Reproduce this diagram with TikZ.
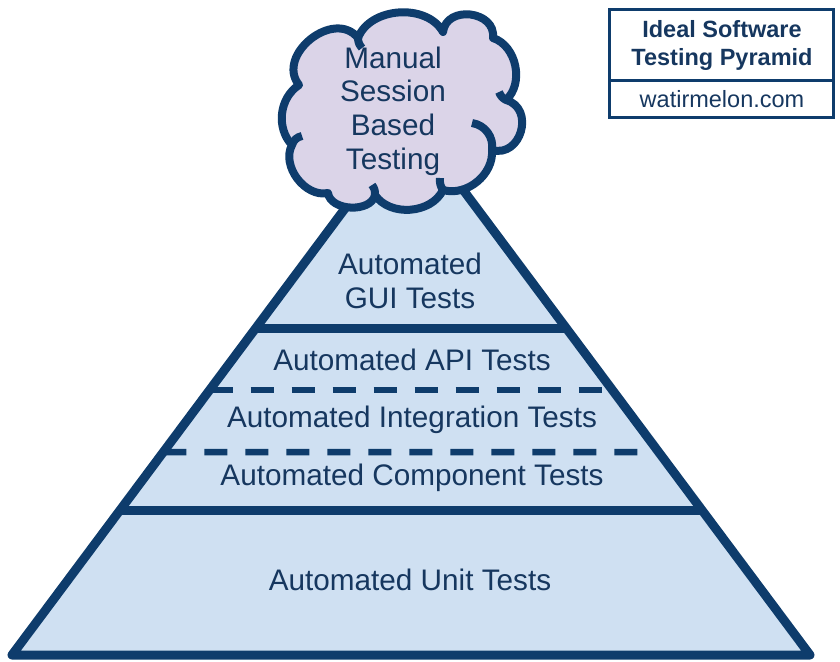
\documentclass[tikz,border=0pt]{standalone}
\usepackage{fontspec}
\setmainfont{Liberation Sans}
\usetikzlibrary{calc}

\definecolor{pyrline}{RGB}{14,60,108}
\definecolor{pyrtext}{RGB}{22,55,95}
\definecolor{pyrfill}{RGB}{207,224,242}
\definecolor{cloudfill}{RGB}{219,212,232}

\tikzset{
  layer/.style={text=pyrtext, font=\fontsize{29.7}{33.7}\selectfont, align=center, inner sep=0pt},
  boxtext/.style={text=pyrtext, font=\fontsize{23.5}{28}\selectfont, align=center, inner sep=0pt},
  edge/.style={draw=pyrline, line width=9pt, line join=round},
  dashline/.style={draw=pyrline, line width=6.5pt, dash pattern=on 23pt off 18pt},
}

\begin{document}
\begin{tikzpicture}[x=1pt, y=1pt]
    \useasboundingbox (0,0) rectangle (840,-661);

    % Pyramid
    \coordinate (apex) at (411,-120);
    \coordinate (bl) at (12,-655);
    \coordinate (br) at (810,-655);
    \draw[edge, fill=pyrfill] (apex) -- (bl) -- (br) -- cycle;

    % Layer borders
    \draw[edge] ($(apex)!0.389!(bl)$) -- ($(apex)!0.389!(br)$);
    \draw[dashline] ($(apex)!0.5047!(bl)$) -- ($(apex)!0.5047!(br)$);
    \draw[dashline] ($(apex)!0.6206!(bl)$) -- (640,-452);
    \draw[edge] ($(apex)!0.729!(bl)$) -- ($(apex)!0.729!(br)$);

    % Cloud on top
    \draw[edge, line width=8pt, fill=cloudfill]
        (292,-145) to[bend left=50] (299,-85)
        to[bend left=90, looseness=1.3] (358,-38)
        to[bend left=65] (443,-32)
        to[bend left=90, looseness=1.4] (493,-38)
        to[bend left=60] (506,-100)
        to[bend left=90, looseness=1.5] (492,-150)
        to[bend left=55] (443,-190)
        to[bend left=60] (375,-195)
        to[bend left=80] (328,-193)
        to[bend left=65] (292,-145) -- cycle;
    \draw[edge, line width=8pt] (292,-145) to[bend left=30] (302,-136);
    \draw[edge, line width=8pt] (358,-38) to[bend right=20] (362,-48);
    \draw[edge, line width=8pt] (506,-100) to[bend left=20] (499,-92);
    \draw[edge, line width=8pt] (472,-123) to[bend left=45] (492,-150);
    \draw[edge, line width=8pt] (440,-178) to[bend right=20] (443,-190);
    \draw[edge, line width=8pt] (372,-185) to[bend left=20] (375,-195);

    \node[layer] (manual) at (393,-111) {Manual\\Session\\Based\\Testing};

    % Layer labels
    \node[layer] (gui) at (410,-281) {Automated\\GUI Tests};
    \node[layer] (api) at (412,-360) {Automated API Tests};
    \node[layer] (integration) at (412,-420) {Automated Integration Tests};
    \node[layer] (component) at (412,-478) {Automated Component Tests};
    \node[layer] (unit) at (410,-580) {Automated Unit Tests};

    % Title box
    \draw[pyrline, line width=3pt] (609,-10) rectangle (833,-117);
    \draw[pyrline, line width=3pt] (609,-80) -- (833,-80);
    \node[boxtext, font=\fontsize{23.5}{28}\selectfont\bfseries] (title) at (722,-45) {Ideal Software\\Testing Pyramid};
    \node[boxtext] (site) at (722,-99) {watirmelon.com};
\end{tikzpicture}
\end{document}
